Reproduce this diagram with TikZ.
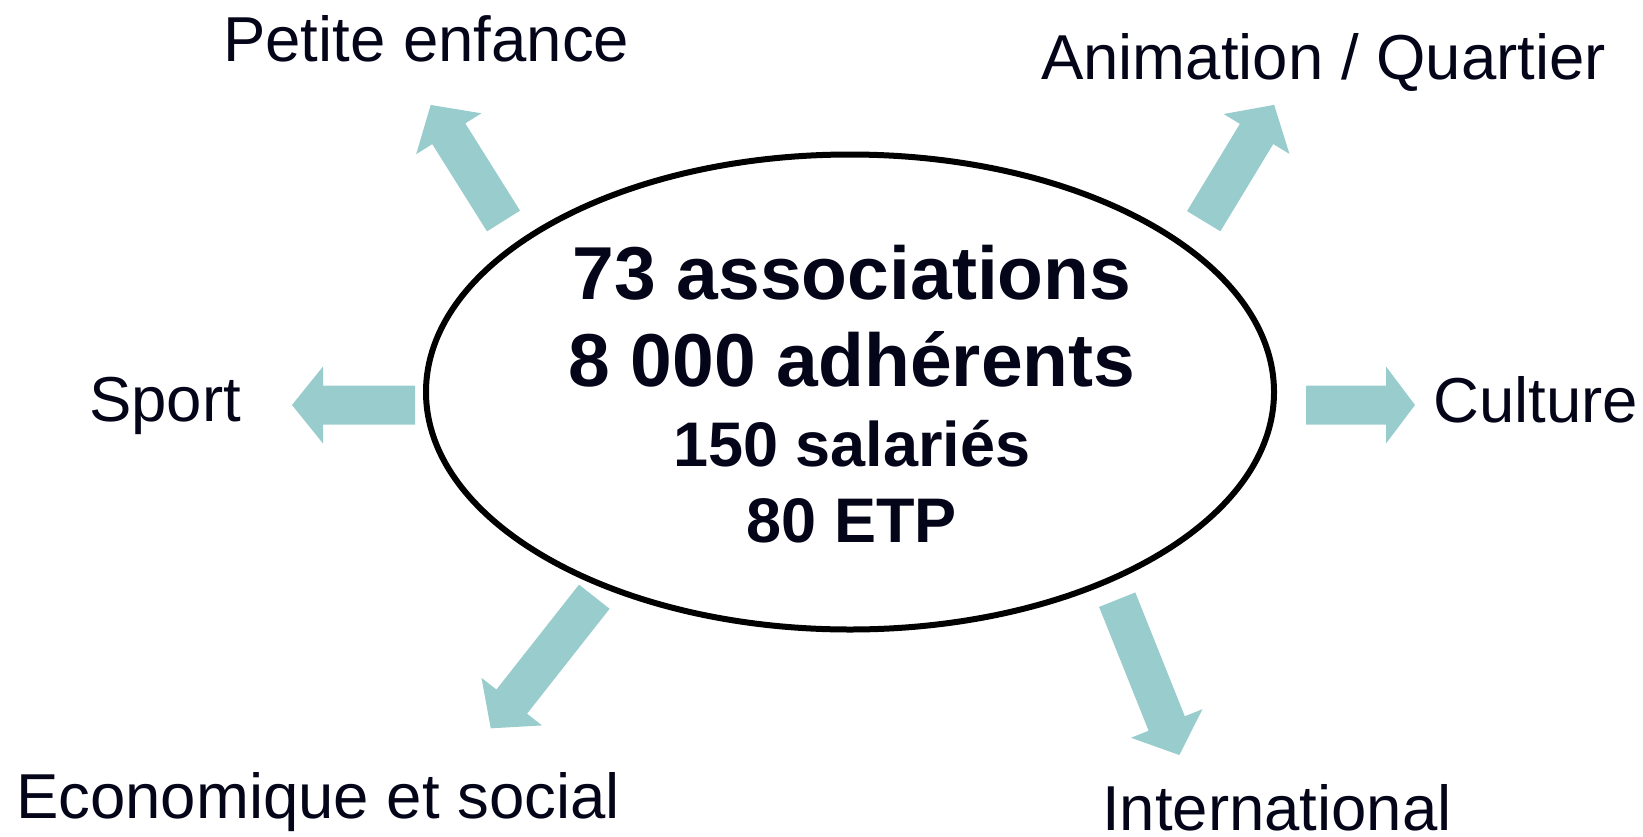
\documentclass[tikz,border=0pt]{standalone}
\usepackage{fontspec}
\setmainfont{Liberation Sans}
\usetikzlibrary{shapes.geometric}

\definecolor{arrowteal}{HTML}{99CCCC}
\definecolor{inkdark}{HTML}{05051A}

\tikzset{
    domaintext/.style={anchor=base west, inner sep=0pt, text=inkdark, font=\fontsize{63.5}{70}\selectfont},
    bigline/.style={anchor=base, inner sep=0pt, text=inkdark, font=\bfseries\fontsize{75}{82}\selectfont},
    smallline/.style={anchor=base, inner sep=0pt, text=inkdark, font=\bfseries\fontsize{63}{70}\selectfont},
    pics/fatarrow/.style 2 args={code={
        \fill[arrowteal] (0,-19.5) -- ({#1-#2},-19.5) -- ({#1-#2},-38.5) -- (#1,0)
            -- ({#1-#2},38.5) -- ({#1-#2},19.5) -- (0,19.5) -- cycle;
    }}
}

\begin{document}
\begin{tikzpicture}[x=1pt,y=-1pt]
        \useasboundingbox (0,0) rectangle (1643,836);

        \node[ellipse, draw=black, line width=6pt, minimum width=848pt, minimum height=475pt, inner sep=0pt] (assoc) at (850,392) {};

        \node[bigline] (nbassoc) at (852,299) {73 associations};
        \node[bigline] (nbadh) at (852,386) {8 000 adhérents};
        \node[smallline] (nbsal) at (852,466) {150 salariés};
        \node[smallline] (nbetp) at (852,542) {80 ETP};

        \pic[rotate=122.1] at (503.5,221) {fatarrow={137}{34}};
        \pic[rotate=58.8] at (1203.7,221.2) {fatarrow={136}{34}};
        \pic[rotate=180] at (415,405) {fatarrow={123}{31}};
        \pic[rotate=0] at (1306,405) {fatarrow={109}{29}};
        \pic[rotate=231.8] at (594.3,596.7) {fatarrow={167.5}{34}};
        \pic[rotate=-68.2] at (1117.2,599.7) {fatarrow={167.3}{34}};

        \node[domaintext] (petite) at (223,61) {Petite enfance};
        \node[domaintext] (anim) at (1041,79) {Animation / Quartier};
        \node[domaintext] (sport) at (89,421) {Sport};
        \node[domaintext] (culture) at (1433,422) {Culture};
        \node[domaintext] (eco) at (16,818) {Economique et social};
        \node[domaintext] (intl) at (1102,830) {International};

    \end{tikzpicture}
\end{document}
